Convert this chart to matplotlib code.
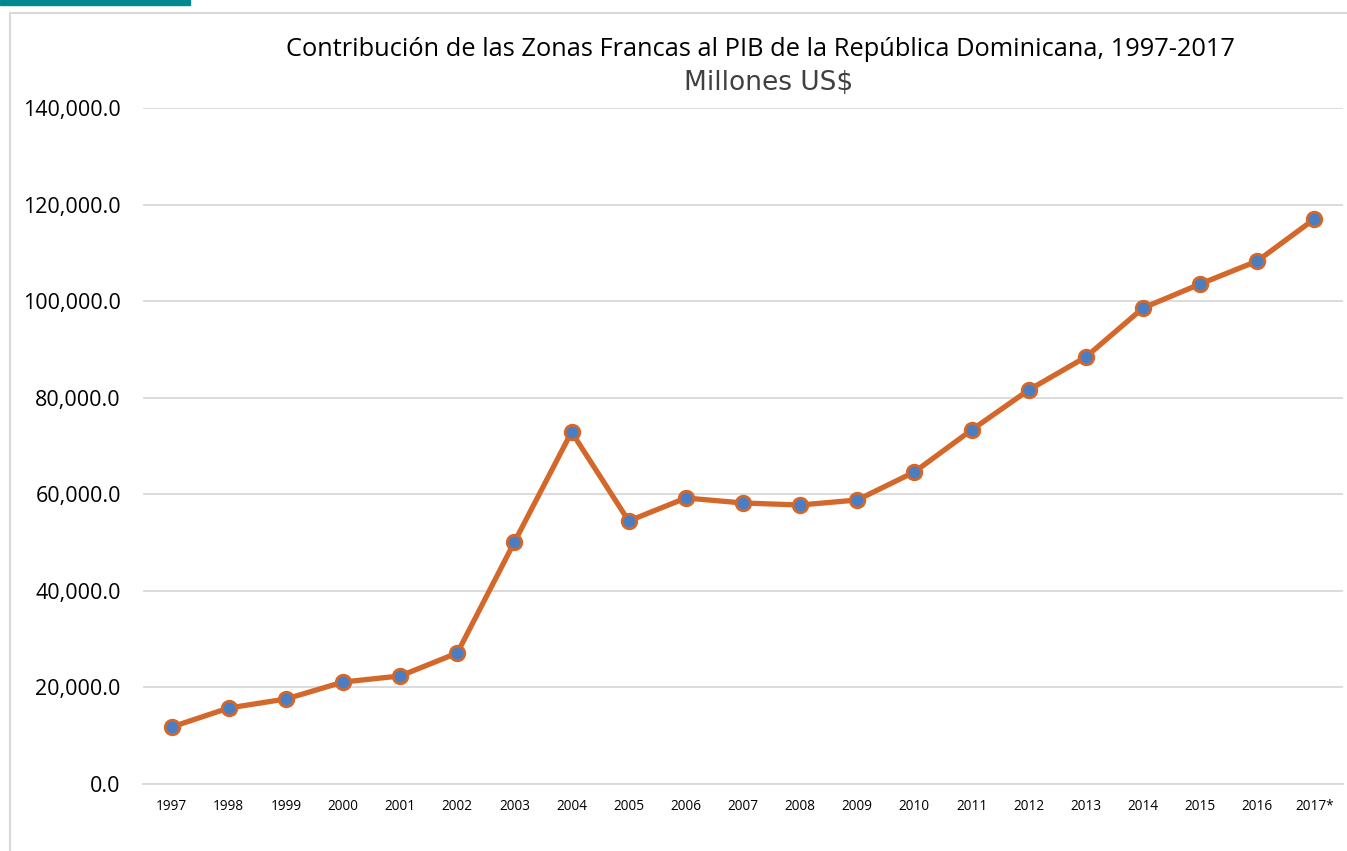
import matplotlib.pyplot as plt
from matplotlib.patches import Rectangle
from matplotlib.ticker import FuncFormatter

years = ["1997", "1998", "1999", "2000", "2001", "2002", "2003", "2004",
         "2005", "2006", "2007", "2008", "2009", "2010", "2011", "2012",
         "2013", "2014", "2015", "2016", "2017*"]
values = [11800, 15740, 17600, 21120, 22370, 27130, 50120, 72900,
          54470, 59230, 58200, 57780, 58820, 64620, 73310, 81600,
          88430, 98580, 103550, 108310, 117010]

yticks = [0, 20000, 40000, 60000, 80000, 100000, 120000, 140000]

W, H = 1347, 851
fig = plt.figure(figsize=(W / 100, H / 100), dpi=100)

# teal band and chart frame
fig.patches.append(Rectangle((0, 1 - 5 / H), 190 / W, 5 / H,
                             transform=fig.transFigure, color="#00878f",
                             zorder=0))
fig.patches.append(Rectangle((10 / W, -0.1), 1.2, 1 - 13 / H + 0.1,
                             transform=fig.transFigure, fill=False,
                             edgecolor="#d9d9d9", linewidth=1.5, zorder=0))

ax = fig.add_axes([143 / W, 1 - 784 / H, 1200 / W, 676 / H])
ax.set_facecolor("none")

x = list(range(len(years)))
ax.plot(x, values, color="#d4672a", linewidth=3.8, marker="o",
        markersize=10.5, markerfacecolor="#4a7ec4", markeredgecolor="#d4672a",
        markeredgewidth=2, solid_capstyle="round", zorder=3)

ax.set_xlim(-0.5, len(years) - 0.5)
ax.set_ylim(0, 140000)
ax.set_yticks(yticks)
ax.yaxis.set_major_formatter(FuncFormatter(lambda v, p: f"{v:,.1f}"))
ax.set_xticks(x)
ax.set_xticklabels(years)

ax.grid(axis="y", color="#d9d9d9", linewidth=1.3)
ax.set_axisbelow(True)
for s in ["top", "left", "right"]:
    ax.spines[s].set_visible(False)
ax.spines["bottom"].set_color("#d9d9d9")
ax.spines["bottom"].set_linewidth(1.3)
ax.tick_params(axis="both", length=0)
ax.tick_params(axis="y", labelsize=15.5, pad=16, labelcolor="black")
ax.tick_params(axis="x", labelsize=9.8, pad=11, labelcolor="black")
for lab in ax.get_yticklabels() + ax.get_xticklabels():
    lab.set_family("Open Sans")

fig.text(760 / W, 1 - 49 / H,
         "Contribución de las Zonas Francas al PIB de la República Dominicana, 1997-2017",
         ha="center", va="center", fontsize=18.3, family="Open Sans")
fig.text(769 / W, 1 - 83 / H, "Millones US$", ha="center", va="center",
         fontsize=19, family="DejaVu Sans", color="#404040")

fig.savefig("out.png", dpi=100)
